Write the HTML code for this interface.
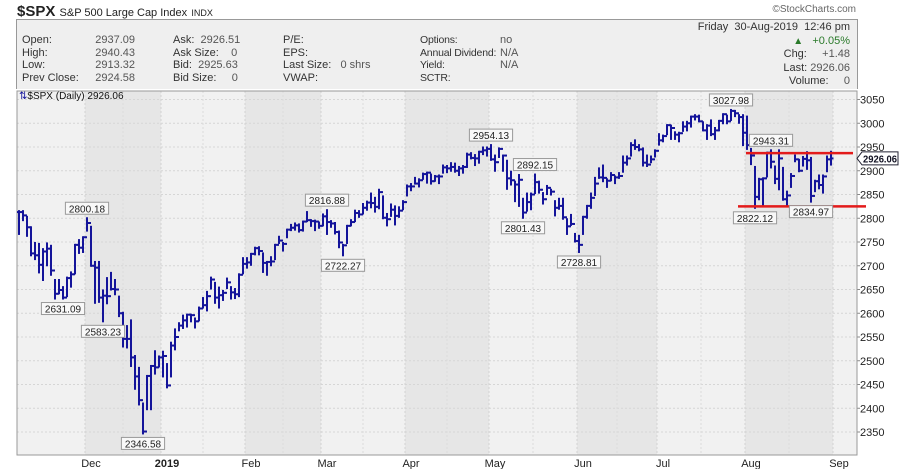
<!DOCTYPE html>
<html><head><meta charset="utf-8">
<style>
body{margin:0;background:#fff;font-family:"Liberation Sans",sans-serif;}
#wrap{position:relative;width:900px;height:469px;overflow:hidden;}
.t{position:absolute;font-size:11px;color:#333;white-space:nowrap;}
</style></head>
<body>
<div id="wrap">
<div class="t" style="left:17px;top:3px;font-size:15px;font-weight:bold;color:#222">$SPX <span style="font-size:11px;font-weight:normal">S&amp;P 500 Large Cap Index</span> <span style="font-size:9px;font-weight:normal">INDX</span></div>
<div class="t" style="right:44px;top:4px;font-size:10px;color:#666">©StockCharts.com</div>
<div style="position:absolute;left:16px;top:19px;width:840px;height:69px;background:#efefef;border:1px solid #999;border-bottom:none"></div>
<svg id="ch" width="900" height="469" style="position:absolute;left:0;top:0"></svg>
</div>
<script>
const closes=[2813,2806,2781,2726,2722,2702,2730,2736,2690,2641,2649,2633,2674,2682,2744,2738,2760,
2790,2700,2696,2633,2637,2636,2651,2650,2600,2546,2546,2507,2467,2417,2351,2468,2489,2486,2507,
2510,2448,2532,2550,2574,2585,2597,2596,2583,2610,2617,2636,2671,2633,2638,2643,2665,2644,2640,2681,2704,
2707,2725,2737,2731,2706,2708,2709,2744,2753,2746,2776,2780,2785,2775,2793,2796,2794,2793,2784,
2804,2792,2789,2771,2749,2743,2784,2792,2811,2808,2822,2833,2832,2824,2855,2801,2798,2818,2805,2816,2834,
2867,2867,2873,2880,2893,2896,2878,2888,2888,2907,2905,2908,2900,2905,2908,2934,2927,2926,2940,2943,2946,
2924,2918,2946,2932,2884,2880,2871,2881,2812,2834,2850,2876,2860,2840,2864,2856,2822,2826,2802,2783,2788,2752,
2744,2803,2826,2843,2873,2886,2885,2879,2891,2886,2889,2917,2926,2954,2950,2945,2917,2913,2924,2942,
2964,2973,2996,2990,2976,2979,2993,3000,3014,3014,3004,2985,2995,2977,2985,3005,3019,3004,3026,3021,3013,2980,
2954,2932,2845,2882,2884,2938,2919,2883,2926,2840,2848,2889,2924,2900,2925,2922,2847,2878,2870,2888,2924,2926];
const highs=[2815,2815,2803,2781,2748,2746,2735,2747,2742,2670,2670,2655,2675,2686,2744,2754,2760,
2800,2782,2708,2708,2648,2674,2685,2670,2635,2601,2573,2585,2510,2485,2410,2468,2489,2520,2509,
2519,2493,2538,2566,2579,2595,2597,2597,2589,2612,2632,2645,2675,2664,2654,2647,2673,2655,2651,2682,2716,
2716,2725,2738,2739,2726,2708,2718,2744,2761,2748,2776,2786,2789,2787,2793,2813,2796,2795,2791,
2808,2817,2794,2790,2772,2744,2784,2796,2816,2815,2830,2835,2852,2843,2860,2846,2809,2829,2825,2823,2836,
2869,2872,2885,2882,2894,2896,2892,2889,2890,2911,2910,2916,2915,2908,2910,2936,2937,2933,2940,2949,2949,
2954,2932,2947,2932,2921,2898,2877,2891,2841,2852,2852,2892,2877,2853,2868,2860,2836,2841,2841,2798,2807,2767,
2763,2803,2826,2852,2885,2905,2911,2882,2895,2888,2895,2930,2930,2958,2964,2954,2947,2932,2930,2943,
2977,2974,2996,2995,2981,2980,3002,3003,3014,3017,3016,3002,2996,3006,2990,3005,3019,3016,3028,3026,3017,3017,
3014,2946,2908,2883,2884,2938,2943,2909,2943,2906,2856,2893,2932,2923,2929,2939,2927,2879,2890,2890,2930,2940];
const lows=[2767,2796,2763,2722,2714,2686,2670,2701,2681,2631,2642,2631,2636,2656,2684,2727,2729,
2774,2700,2622,2624,2583,2621,2650,2640,2594,2530,2528,2489,2441,2408,2347,2398,2398,2473,2488,
2467,2444,2467,2524,2564,2569,2572,2583,2570,2585,2612,2606,2652,2622,2612,2628,2653,2631,2632,2636,2684,
2696,2702,2724,2724,2687,2681,2701,2714,2748,2732,2760,2775,2776,2772,2774,2794,2784,2775,2780,
2785,2767,2782,2768,2739,2722,2748,2785,2794,2803,2810,2818,2823,2814,2821,2800,2785,2805,2787,2803,2819,
2848,2859,2873,2867,2883,2875,2873,2879,2874,2896,2897,2900,2898,2891,2896,2908,2926,2912,2917,2935,2932,
2923,2900,2929,2900,2862,2871,2836,2826,2801,2816,2819,2853,2854,2831,2851,2850,2806,2820,2799,2767,2786,2751,
2729,2767,2801,2822,2849,2885,2878,2866,2880,2874,2885,2898,2913,2932,2946,2943,2911,2910,2918,2930,
2955,2962,2977,2967,2967,2962,2984,2985,2993,3008,3004,2985,2967,2975,2967,2985,3000,3000,3007,3015,3001,2954,
2946,2914,2822,2840,2825,2888,2907,2874,2861,2839,2826,2866,2920,2899,2911,2904,2835,2857,2863,2854,2899,2913];
const monthLabels=["Dec","2019","Feb","Mar","Apr","May","Jun","Jul","Aug","Sep"];
const monthStartIdx=[17,36,57,76,97,118,140,160,182,204];
const yTicks=[2350,2400,2450,2500,2550,2600,2650,2700,2750,2800,2850,2900,2950,3000,3050];
const hiLabels=["2800.18","2816.88","2954.13","2892.15","3027.98","2943.31"];
const hiIdx=[17,77,118,129,178,188];
const loLabels=["2631.09","2583.23","2346.58","2722.27","2801.43","2728.81","2822.12","2834.97"];
const loIdx=[11,21,31,81,126,140,184,198];
const resistance=2937, support=2825;

const NS="http://www.w3.org/2000/svg";
const svg=document.getElementById('ch');
const L=17,R=857,T=91,B=455;
const x=i=>87+(i-17)*4;
const y=v=>99.5+(3050-v)*0.475;
function mk(tag,a,parent){const e=document.createElementNS(NS,tag);for(const k in a)e.setAttribute(k,a[k]);(parent||svg).appendChild(e);return e;}

let bg=mk('rect',{x:L,y:T,width:R-L,height:B-T,fill:'#f1f1f1'});


for(let m=0;m<monthStartIdx.length;m++){
  if(m%2==0&&m+1<monthStartIdx.length){
    const b=mk('rect',{x:x(monthStartIdx[m])-2,y:T,width:x(monthStartIdx[m+1])-x(monthStartIdx[m]),height:B-T,fill:'#e6e6e6'});
    
    
  }
}
yTicks.forEach(v=>{
  const g=mk('line',{x1:L,x2:R,y1:y(v),y2:y(v),stroke:'#d6d6d6','stroke-dasharray':'2,2'});
  
  
  const t=mk('text',{x:R+3,y:y(v)+4,'font-size':11,fill:'#222','font-family':'Liberation Sans, sans-serif'});
  t.textContent=v;
  
  
  mk('line',{x1:R,x2:R+3,y1:y(v),y2:y(v),stroke:'#888'});
});
for(let m=0;m<monthStartIdx.length;m++){
  const xm=x(monthStartIdx[m])-2;
  const g=mk('line',{x1:xm,x2:xm,y1:T,y2:B,stroke:'#d3d3d3','stroke-dasharray':'2,2'});
  
  
  if(m+1<monthStartIdx.length){
    const xh=(x(monthStartIdx[m])+x(monthStartIdx[m+1]))/2-2;
    mk('line',{x1:xh,x2:xh,y1:T,y2:B,stroke:'#dcdcdc','stroke-dasharray':'2,2'});
  }
  const t=mk('text',{x:xm+6,y:467,'font-size':11,fill:'#222','text-anchor':'middle','font-weight':monthLabels[m]=='2019'?'bold':'normal','font-family':'Liberation Sans, sans-serif'});
  t.textContent=monthLabels[m];
  
  
}
let fr=mk('rect',{x:L,y:T,width:R-L,height:B-T,fill:'none',stroke:'#999'});


for(let i=0;i<closes.length;i++){
  const xi=x(i), op=i>0?closes[i-1]:closes[i];
  const g=mk('g',{stroke:'#14149a','stroke-width':2});
  
  
  mk('line',{x1:xi,x2:xi,y1:y(highs[i])-1,y2:y(lows[i])+1},g);
  mk('line',{x1:xi-2,x2:xi,y1:y(op),y2:y(op)},g);
  mk('line',{x1:xi,x2:xi+2.5,y1:y(closes[i]),y2:y(closes[i])},g);
}
let rl=mk('line',{x1:746,x2:853,y1:y(resistance),y2:y(resistance),stroke:'#e31b1b','stroke-width':2.5});


let sl=mk('line',{x1:738,x2:866,y1:y(support),y2:y(support),stroke:'#e31b1b','stroke-width':2.5});


function label(txt,xc,yy,above){
  const w=txt.length*5.6+4, h=12;
  const by=above?yy-16:yy+4;
  const g=mk('g',{});
  
  
  mk('rect',{x:xc-w/2,y:by,width:w,height:h,fill:'#f8f8f8',stroke:'#999'},g);
  const t=mk('text',{x:xc,y:by+10,'font-size':10,'text-anchor':'middle',fill:'#222','font-family':'Liberation Sans, sans-serif'},g);
  t.textContent=txt;
}
hiLabels.forEach((s,k)=>label(s,x(hiIdx[k]),y(highs[hiIdx[k]]),true));
loLabels.forEach((s,k)=>label(s,x(loIdx[k]),y(lows[loIdx[k]]),false));
const lp=closes[closes.length-1];
const tg=mk('g',{});


mk('path',{d:`M${R} ${y(lp)} l5 -6.5 h36 v13 h-36 z`,fill:'#fff',stroke:'#223'},tg);
const lt=mk('text',{x:R+6,y:y(lp)+4,'font-size':10.5,'font-weight':'bold',fill:'#112','font-family':'Liberation Sans, sans-serif',textLength:34,lengthAdjust:'spacingAndGlyphs'},tg);
lt.textContent='2926.06';
</script>
<div class="t" style="left:19px;top:91px;font-size:10px;color:#111"><span style="color:#14149a">⇅</span>$SPX (Daily) 2926.06</div>
<div>
<div class="t" style="left:22px;top:34px;line-height:12.6px">Open:<br>High:<br>Low:<br>Prev Close:</div>
<div class="t" style="left:90px;top:34px;line-height:12.6px;width:45px;text-align:right;color:#555">2937.09<br>2940.43<br>2913.32<br>2924.58</div>
<div class="t" style="left:173px;top:34px;line-height:12.6px">Ask:&nbsp; <span style="color:#555">2926.51</span><br>Ask Size:&nbsp;&nbsp;&nbsp; <span style="color:#555">0</span><br>Bid:&nbsp; <span style="color:#555">2925.63</span><br>Bid Size:&nbsp;&nbsp;&nbsp;&nbsp; <span style="color:#555">0</span></div>
<div class="t" style="left:283px;top:34px;line-height:12.6px">P/E:<br>EPS:<br>Last Size:&nbsp;&nbsp; <span style="color:#555">0 shrs</span><br>VWAP:</div>
<div class="t" style="left:420px;top:34px;line-height:12.6px;font-size:10.5px;letter-spacing:-0.2px">Options:<br>Annual Dividend:<br>Yield:<br>SCTR:</div>
<div class="t" style="left:500px;top:34px;line-height:12.6px;color:#555">no<br>N/A<br>N/A</div>
<div class="t" style="right:50px;top:21px;line-height:13.5px;text-align:right">Friday&nbsp; 30-Aug-2019&nbsp; 12:46 pm<br><span style="color:#2a7a2a"><span style="font-size:10px">▲</span>&nbsp;&nbsp; +0.05%</span><br>Chg:&nbsp;&nbsp;&nbsp;&nbsp; <span style="color:#555">+1.48</span><br>Last: <span style="color:#555">2926.06</span><br>Volume:&nbsp;&nbsp;&nbsp;&nbsp; <span style="color:#555">0</span></div>
</div>
</body></html>
